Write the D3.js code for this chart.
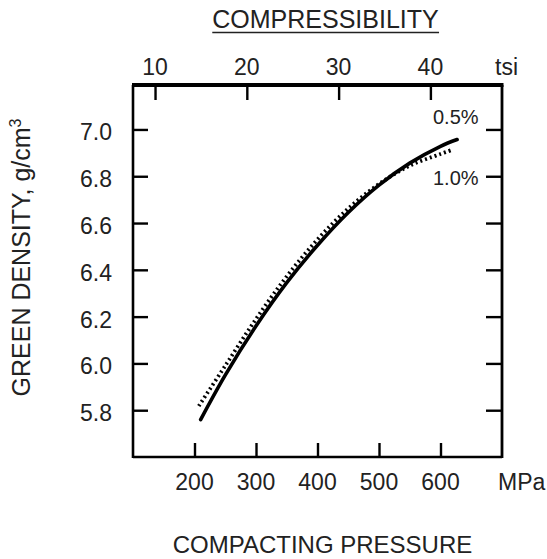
<!DOCTYPE html>
<html>
<head>
<meta charset="utf-8">
<script src="https://cdn.jsdelivr.net/npm/d3@7"></script>
<style>
  html, body { margin: 0; padding: 0; background: #fff; }
  svg { display: block; }
  text { font-family: "Liberation Sans", Arial, sans-serif; fill: #222; }
</style>
</head>
<body>
<svg id="chart" width="547" height="559"></svg>
<script>
// ---- data ----
const mpaTicks = [200, 300, 400, 500, 600];
const tsiTicks = [10, 20, 30, 40];
const densityTicks = [5.8, 6.0, 6.2, 6.4, 6.6, 6.8, 7.0];

const pressure05 = [210, 250, 300, 350, 400, 450, 500, 550, 600, 627];
const density05  = [5.76, 5.95, 6.16, 6.345, 6.505, 6.645, 6.762, 6.856, 6.928, 6.957];

const pressure10 = [207, 250, 300, 350, 400, 450, 500, 550, 600, 620];
const density10  = [5.818, 5.99, 6.19, 6.372, 6.53, 6.662, 6.767, 6.845, 6.895, 6.914];

const seriesLabels = ["0.5%", "1.0%"];

// ---- layout ----
const plot = { left: 133, right: 502, top: 85, bottom: 457 };

const svg = d3.select("#chart");

const x = d3.scaleLinear().domain([100, 700]).range([plot.left, plot.right]);
const xTop = d3.scaleLinear().domain([7.6, 47.8]).range([plot.left, plot.right]);
const y = d3.scaleLinear().domain([5.6, 7.19]).range([plot.bottom, plot.top]);

// frame
const frame = svg.append("g").attr("stroke", "#000").attr("fill", "none");
frame.append("line").attr("x1", plot.left - 1).attr("x2", plot.right + 1.5)
  .attr("y1", plot.top).attr("y2", plot.top).attr("stroke-width", 4);
frame.append("line").attr("x1", plot.left).attr("x2", plot.left)
  .attr("y1", plot.top).attr("y2", plot.bottom + 1).attr("stroke-width", 2.6);
frame.append("line").attr("x1", plot.right).attr("x2", plot.right)
  .attr("y1", plot.top).attr("y2", plot.bottom + 1).attr("stroke-width", 2.8);
frame.append("line").attr("x1", plot.left).attr("x2", plot.right)
  .attr("y1", plot.bottom).attr("y2", plot.bottom).attr("stroke-width", 2.6);

// bottom axis (MPa) - inward ticks
const bottomAxis = d3.axisTop(x).tickValues(mpaTicks).tickSize(14).tickFormat("");
const gb = svg.append("g").attr("transform", `translate(0,${plot.bottom})`).call(bottomAxis);
gb.select(".domain").remove();
gb.selectAll(".tick line").attr("stroke", "#000").attr("stroke-width", 2.4);
svg.append("g").selectAll("text").data(mpaTicks).join("text")
  .attr("x", d => x(d)).attr("y", 490).attr("text-anchor", "middle")
  .attr("font-size", 23).text(d => d);
svg.append("text").attr("x", 498).attr("y", 490).attr("font-size", 23).text("MPa");

// top axis (tsi) - inward ticks
const topAxis = d3.axisBottom(xTop).tickValues(tsiTicks).tickSize(15).tickFormat("");
const gt = svg.append("g").attr("transform", `translate(0,${plot.top})`).call(topAxis);
gt.select(".domain").remove();
gt.selectAll(".tick line").attr("stroke", "#000").attr("stroke-width", 2.4);
svg.append("g").selectAll("text").data(tsiTicks).join("text")
  .attr("x", d => xTop(d)).attr("y", 75).attr("text-anchor", "middle")
  .attr("font-size", 23).text(d => d);
svg.append("text").attr("x", 495).attr("y", 75).attr("font-size", 23).text("tsi");

// left axis - inward ticks
const leftAxis = d3.axisRight(y).tickValues(densityTicks).tickSize(15).tickFormat("");
const gl = svg.append("g").attr("transform", `translate(${plot.left},0)`).call(leftAxis);
gl.select(".domain").remove();
gl.selectAll(".tick line").attr("stroke", "#000").attr("stroke-width", 2.4);
svg.append("g").selectAll("text").data(densityTicks).join("text")
  .attr("x", 112).attr("y", d => y(d) + 11).attr("text-anchor", "end")
  .attr("font-size", 23).text(d => d.toFixed(1));

// right axis - inward ticks
const rightAxis = d3.axisLeft(y).tickValues(densityTicks).tickSize(16).tickFormat("");
const gr = svg.append("g").attr("transform", `translate(${plot.right},0)`).call(rightAxis);
gr.select(".domain").remove();
gr.selectAll(".tick line").attr("stroke", "#000").attr("stroke-width", 2.4);

// curves
const line = d3.line().x(d => x(d[0])).y(d => y(d[1])).curve(d3.curveCatmullRom);
const s05 = pressure05.map((p, i) => [p, density05[i]]);
const s10 = pressure10.map((p, i) => [p, density10[i]]);

svg.append("path").datum(s10).attr("d", line)
  .attr("fill", "none").attr("stroke", "#000").attr("stroke-width", 3.8)
  .attr("stroke-dasharray", "2 3");
svg.append("path").datum(s05).attr("d", line)
  .attr("fill", "none").attr("stroke", "#000").attr("stroke-width", 3.6)
  .attr("stroke-linecap", "round");

// curve labels
svg.append("text").attr("x", 433).attr("y", 124).attr("font-size", 20).text(seriesLabels[0]);
svg.append("text").attr("x", 433).attr("y", 185).attr("font-size", 20).text(seriesLabels[1]);

// titles
const topTitle = svg.append("text").attr("x", 325.5).attr("y", 28).attr("text-anchor", "middle")
  .attr("font-size", 25).text("COMPRESSIBILITY");
const bb = topTitle.node().getBBox();
svg.append("line").attr("x1", bb.x).attr("x2", bb.x + bb.width)
  .attr("y1", 32.5).attr("y2", 32.5).attr("stroke", "#222").attr("stroke-width", 1.4);

svg.append("text").attr("x", 322.5).attr("y", 553).attr("text-anchor", "middle")
  .attr("font-size", 24).text("COMPACTING PRESSURE");

const yt = svg.append("text").attr("transform", "translate(30,257.5) rotate(-90)")
  .attr("text-anchor", "middle").attr("font-size", 25);
yt.append("tspan").text("GREEN DENSITY, g/cm");
yt.append("tspan").attr("font-size", 16).attr("dy", -9).text("3");
</script>
</body>
</html>
